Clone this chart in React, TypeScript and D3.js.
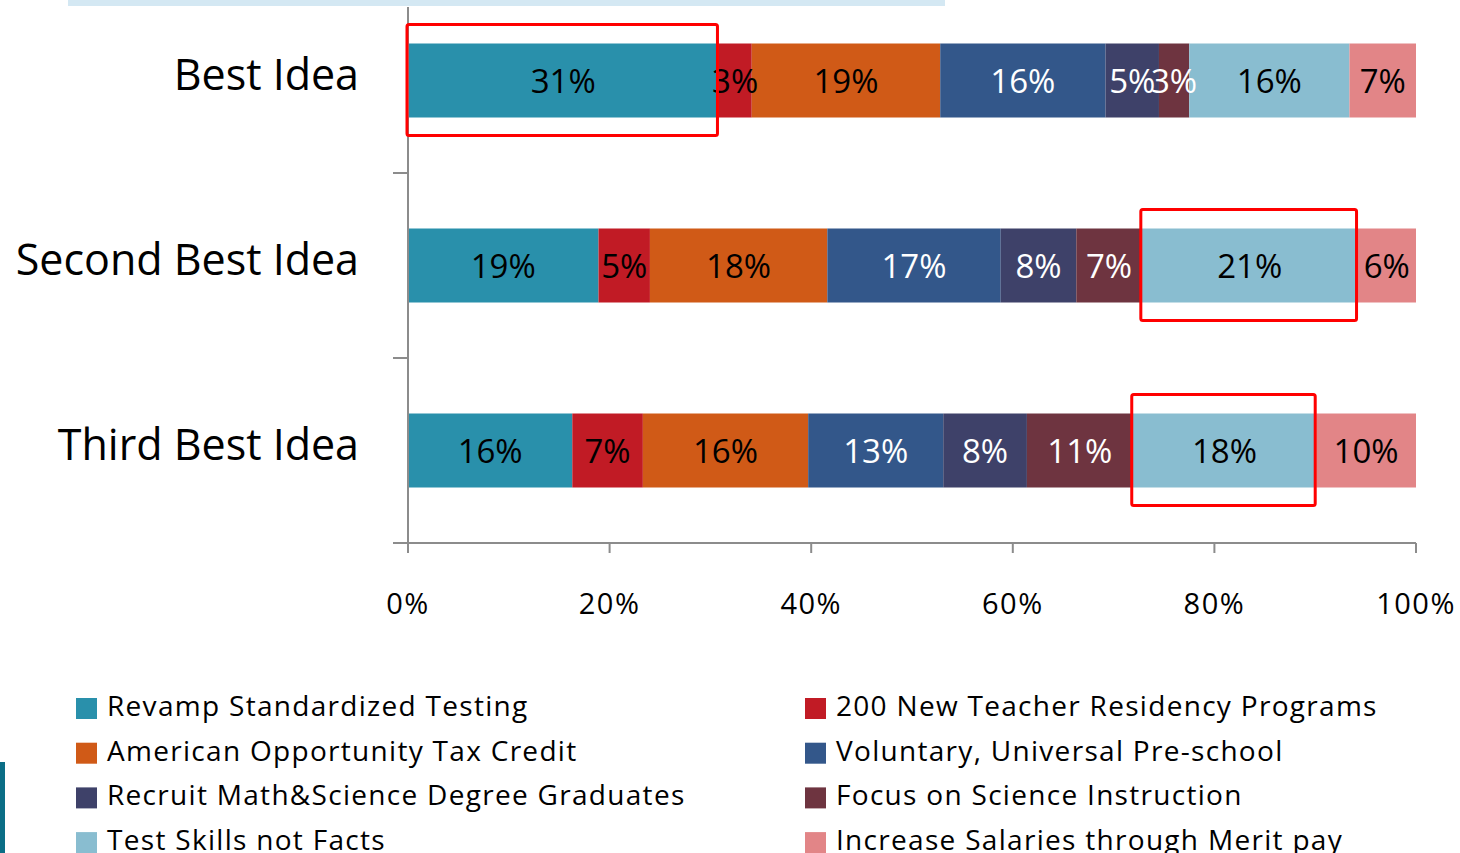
import React, { useEffect, useRef } from 'react';
import * as d3 from 'd3';

const categories = ['Best Idea', 'Second Best Idea', 'Third Best Idea'];

const seriesNames = [
  'Revamp Standardized Testing',
  '200 New Teacher Residency Programs',
  'American Opportunity Tax Credit',
  'Voluntary, Universal Pre-school',
  'Recruit Math&Science Degree Graduates',
  'Focus on Science Instruction',
  'Test Skills not Facts',
  'Increase Salaries through Merit pay',
];
const seriesColors = ['#2990ab', '#c11b25', '#d05a17', '#33578a', '#3e4169', '#6e3440', '#89bdd0', '#e28587'];
const labelColors = ['#000', '#000', '#000', '#fff', '#fff', '#fff', '#000', '#000'];

// percent share per category (Best, Second, Third)
const revamp = [30.8, 18.9, 16.3];
const residency = [3.3, 5.1, 7.0];
const taxCredit = [18.7, 17.6, 16.4];
const preschool = [16.4, 17.2, 13.4];
const recruit = [5.3, 7.5, 8.3];
const science = [3.0, 6.5, 10.5];
const testSkills = [15.9, 21.4, 18.2];
const merit = [6.6, 5.8, 9.9];
const seriesValues = [revamp, residency, taxCredit, preschool, recruit, science, testSkills, merit];

const xTicks = [0, 20, 40, 60, 80, 100];

// segments boxed in red on the slide: [category index, series index]
const highlights = [[0, 0], [1, 6], [2, 6]];

const FONT = "'Open Sans', sans-serif";

const App = () => {
  const svgRef = useRef(null);

  useEffect(() => {
    const svg = d3.select(svgRef.current);
    svg.selectAll('*').remove();

    const x = d3.scaleLinear().domain([0, 100]).range([408, 1416]);
    const y = d3.scaleBand().domain(categories).range([-12, 543]);
    const barH = y.bandwidth() * 0.4;
    const axisColor = '#8c8c8c';

    // light strip at top of slide
    svg.append('rect').attr('x', 68).attr('y', 0).attr('width', 877).attr('height', 6).attr('fill', '#d4e8f3');
    // slide decoration at bottom-left
    svg.append('rect').attr('x', 0).attr('y', 762).attr('width', 5).attr('height', 91).attr('fill', '#0b6e86');

    const table = categories.map((c, i) => {
      const row = { cat: c };
      seriesNames.forEach((s, j) => { row[s] = seriesValues[j][i]; });
      return row;
    });
    const stacked = d3.stack().keys(seriesNames)(table);

    const layers = svg.append('g').selectAll('g')
      .data(stacked)
      .enter()
      .append('g')
      .attr('fill', (d, i) => seriesColors[i]);

    layers.selectAll('rect')
      .data(d => d)
      .enter()
      .append('rect')
      .attr('x', d => x(d[0]))
      .attr('y', d => y(d.data.cat) + y.bandwidth() / 2 - barH / 2)
      .attr('width', d => x(d[1]) - x(d[0]))
      .attr('height', barH);

    // value labels drawn on top of all segments
    const labelG = svg.append('g');
    stacked.forEach((layer, i) => {
      labelG.append('g').selectAll('text')
        .data(layer)
        .enter()
        .append('text')
        .attr('x', d => (x(d[0]) + x(d[1])) / 2)
        .attr('y', d => y(d.data.cat) + y.bandwidth() / 2 + 12)
        .attr('text-anchor', 'middle')
        .attr('font-family', FONT)
        .attr('font-size', 33)
        .attr('fill', labelColors[i])
        .text(d => Math.round(d[1] - d[0]) + '%');
    });

    // axes
    const axisG = svg.append('g').attr('stroke', axisColor).attr('stroke-width', 2);
    axisG.append('line').attr('x1', 408).attr('x2', 408).attr('y1', 7).attr('y2', 553);
    axisG.append('line').attr('x1', 393).attr('x2', 1416).attr('y1', 543).attr('y2', 543);
    xTicks.forEach(t => {
      axisG.append('line').attr('x1', x(t)).attr('x2', x(t)).attr('y1', 543).attr('y2', 553);
    });
    categories.slice(1).forEach(c => {
      axisG.append('line').attr('x1', 393).attr('x2', 408).attr('y1', y(c)).attr('y2', y(c));
    });

    svg.append('g').selectAll('text')
      .data(xTicks)
      .enter()
      .append('text')
      .attr('x', d => x(d))
      .attr('y', 614)
      .attr('text-anchor', 'middle')
      .attr('font-family', FONT)
      .attr('font-size', 29)
      .attr('letter-spacing', 1.5)
      .attr('fill', '#000')
      .text(d => d + '%');

    svg.append('g').selectAll('text')
      .data(categories)
      .enter()
      .append('text')
      .attr('x', 359)
      .attr('y', d => y(d) + y.bandwidth() / 2 + 9)
      .attr('text-anchor', 'end')
      .attr('font-family', FONT)
      .attr('font-size', 43)
      .attr('fill', '#000')
      .text(d => d);

    // red highlight boxes
    highlights.forEach(([ci, si]) => {
      const seg = stacked[si][ci];
      const cy = y(categories[ci]) + y.bandwidth() / 2;
      svg.append('rect')
        .attr('x', x(seg[0]) - 1)
        .attr('y', cy - 56)
        .attr('width', x(seg[1]) - x(seg[0]))
        .attr('height', 111)
        .attr('rx', 2)
        .attr('fill', 'none')
        .attr('stroke', '#ff0000')
        .attr('stroke-width', 3);
    });

    // legend: two columns
    const legend = svg.append('g').selectAll('g')
      .data(seriesNames)
      .enter()
      .append('g')
      .attr('transform', (d, i) => `translate(${i % 2 === 0 ? 76 : 805}, ${698 + Math.floor(i / 2) * 44.7})`);
    legend.append('rect')
      .attr('width', 21)
      .attr('height', 21)
      .attr('fill', (d, i) => seriesColors[i]);
    legend.append('text')
      .attr('x', 31)
      .attr('y', 18)
      .attr('font-family', FONT)
      .attr('font-size', 28)
      .attr('letter-spacing', 1.3)
      .attr('fill', '#000')
      .text(d => d);
  }, []);

  return (
    <svg ref={svgRef} width={1460} height={853} style={{ position: 'absolute', left: 0, top: 0, background: '#fff' }}></svg>
  );
};

export default App;
